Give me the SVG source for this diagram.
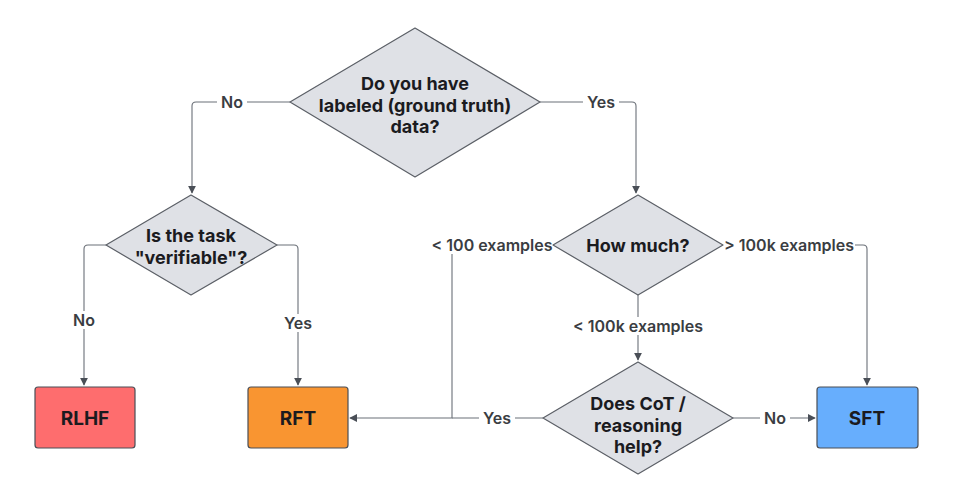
<svg xmlns="http://www.w3.org/2000/svg" width="968" height="487" viewBox="0 0 968 487">
<defs>
<marker id="ah" viewBox="0 0 10 10" refX="9" refY="5" markerWidth="8" markerHeight="8" markerUnits="userSpaceOnUse" orient="auto">
<path d="M0,0 L10,5 L0,10 z" fill="#4a4f57"/>
</marker>
<style>
.dia{fill:#dfe1e6;stroke:#5b5f66;stroke-width:1.2;stroke-linejoin:round}
.box{stroke:#4a4f57;stroke-width:1.2}
.t{font-family:Inter,"Liberation Sans",sans-serif;font-weight:700;fill:#1b1b1f;text-anchor:middle;dominant-baseline:central}
.dt{font-size:18px}
.bt{font-size:19px}
.lbl{font-family:Inter,"Liberation Sans",sans-serif;font-weight:600;font-size:16px;fill:#3a3d42;text-anchor:middle;dominant-baseline:central}
.c{fill:none;stroke:#6b7078;stroke-width:1.1}
.bg{fill:#ffffff}
</style>
</defs>
<rect width="968" height="487" fill="#ffffff"/>
<g id="connectors">
<path class="c" d="M290,102 H196 Q192,102 192,106 V193" marker-end="url(#ah)"/>
<path class="c" d="M540,102 H632 Q636,102 636,106 V193" marker-end="url(#ah)"/>
<path class="c" d="M106,245 H88 Q84,245 84,249 V385" marker-end="url(#ah)"/>
<path class="c" d="M277,245 H294 Q298,245 298,249 V385" marker-end="url(#ah)"/>
<path class="c" d="M553,245 H456 Q452,245 452,249 V418 H350" marker-end="url(#ah)"/>
<path class="c" d="M543,418 H452"/>
<path class="c" d="M723,245 H863 Q867,245 867,249 V385" marker-end="url(#ah)"/>
<path class="c" d="M638,295 V360" marker-end="url(#ah)"/>
<path class="c" d="M733,418 H815" marker-end="url(#ah)"/>
<rect class="bg" x="217" y="93" width="30" height="18"/>
<text class="lbl" x="232" y="102">No</text>
<rect class="bg" x="583" y="93" width="36" height="18"/>
<text class="lbl" x="601" y="102">Yes</text>
<rect class="bg" x="69" y="311" width="30" height="18"/>
<text class="lbl" x="84" y="320">No</text>
<rect class="bg" x="280" y="314" width="36" height="18"/>
<text class="lbl" x="298" y="323">Yes</text>
<rect class="bg" x="430" y="236" width="123" height="18"/>
<text class="lbl" x="492" y="245">&lt; 100 examples</text>
<rect class="bg" x="723" y="236" width="132" height="18"/>
<text class="lbl" x="789" y="245">&gt; 100k examples</text>
<rect class="bg" x="571" y="317" width="134" height="18"/>
<text class="lbl" x="638" y="326">&lt; 100k examples</text>
<rect class="bg" x="479" y="409" width="36" height="18"/>
<text class="lbl" x="497" y="418">Yes</text>
<rect class="bg" x="760" y="409" width="30" height="18"/>
<text class="lbl" x="775" y="418">No</text>
</g>
<g id="q-labeled">
<polygon class="dia" points="415,28 540,102 415,177 290,102"/>
<text class="t dt" x="415" y="83">Do you have</text>
<text class="t dt" x="415" y="105">labeled (ground truth)</text>
<text class="t dt" x="415" y="126">data?</text>
</g>
<g id="q-verifiable">
<polygon class="dia" points="191,195 277,245 191,295 106,245"/>
<text class="t dt" x="191" y="235">Is the task</text>
<text class="t dt" x="191" y="257">"verifiable"?</text>
</g>
<g id="q-howmuch">
<polygon class="dia" points="638,195 723,245 638,295 553,245"/>
<text class="t dt" x="638" y="245">How much?</text>
</g>
<g id="q-cot">
<polygon class="dia" points="638,362 733,418 638,474 543,418"/>
<text class="t dt" x="638" y="403">Does CoT /</text>
<text class="t dt" x="638" y="425">reasoning</text>
<text class="t dt" x="638" y="446">help?</text>
</g>
<g id="rlhf">
<rect class="box" x="35" y="387" width="100" height="61" rx="3" fill="#fe6d6e"/>
<text class="t bt" x="85" y="418">RLHF</text>
</g>
<g id="rft">
<rect class="box" x="248" y="387" width="100" height="61" rx="3" fill="#f99531"/>
<text class="t bt" x="298" y="418">RFT</text>
</g>
<g id="sft">
<rect class="box" x="817" y="387" width="101" height="61" rx="3" fill="#67aefd"/>
<text class="t bt" x="867" y="418">SFT</text>
</g>
</svg>
